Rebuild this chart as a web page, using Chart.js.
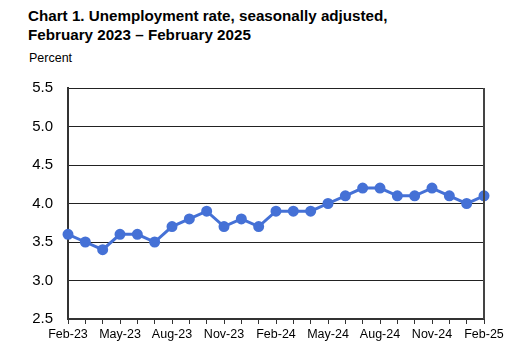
<!DOCTYPE html>
<html><head><meta charset="utf-8">
<script src="https://cdn.jsdelivr.net/npm/chart.js@4"></script>
<style>
html,body{margin:0;padding:0;background:#fff;}
#wrap{position:relative;width:520px;height:358px;font-family:"Liberation Sans",Arial,sans-serif;}
#t{position:absolute;left:28px;top:6px;font-weight:bold;font-size:15.2px;line-height:19px;color:#000;}
#p{position:absolute;left:29px;top:51px;font-size:12.5px;color:#000;}
canvas{position:absolute;left:0;top:0;}
</style></head>
<body><div id="wrap">
<div id="t">Chart 1. Unemployment rate, seasonally adjusted,<br>February 2023 – February 2025</div>
<div id="p">Percent</div>
<canvas id="c" width="520" height="358"></canvas>
</div>
<script>
const months = ["Feb-23","Mar-23","Apr-23","May-23","Jun-23","Jul-23","Aug-23","Sep-23","Oct-23","Nov-23","Dec-23","Jan-24","Feb-24","Mar-24","Apr-24","May-24","Jun-24","Jul-24","Aug-24","Sep-24","Oct-24","Nov-24","Dec-24","Jan-25","Feb-25"];
const rate = [3.6,3.5,3.4,3.6,3.6,3.5,3.7,3.8,3.9,3.7,3.8,3.7,3.9,3.9,3.9,4.0,4.1,4.2,4.2,4.1,4.1,4.2,4.1,4.0,4.1];
const yMin = 2.5, yMax = 5.5, yStep = 0.5;

const frame = {
  id:'frame',
  afterDatasetsDraw(chart){
    const {ctx, chartArea:a} = chart;
    ctx.save();
    ctx.strokeStyle = '#444';
    ctx.lineWidth = 2;
    ctx.beginPath();
    ctx.moveTo(a.right, a.top); ctx.lineTo(a.right, a.bottom);
    ctx.stroke();
    ctx.restore();
  }
};

new Chart(document.getElementById('c'), {
  type:'line',
  data:{labels:months, datasets:[{data:rate, borderColor:'#4571d6', backgroundColor:'#4571d6', borderWidth:3, pointRadius:4, pointHoverRadius:4, tension:0}]},
  options:{
    responsive:false, animation:false,
    layout:{padding:{top:88,right:36,left:0,bottom:0}},
    plugins:{legend:{display:false}, tooltip:{enabled:false}},
    scales:{
      x:{
        offset:false,
        afterFit(s){ s.height = 39; },
        grid:{drawOnChartArea:false, drawTicks:true, tickLength:5, color:'#333', lineWidth:1},
        border:{color:'#333', width:2},
        ticks:{autoSkip:false, maxRotation:0, padding:3, color:'#000', font:{family:'"Liberation Sans", Arial, sans-serif', size:12.5},
          callback(v,i){ return i%3===0 ? months[i] : ''; }}
      },
      y:{
        min:yMin, max:yMax,
        afterFit(s){ s.width = 68; },
        grid:{color:'#222', lineWidth:1, drawTicks:false},
        border:{color:'#333', width:2},
        ticks:{stepSize:yStep, padding:15, color:'#000', font:{family:'"Liberation Sans", Arial, sans-serif', size:15},
          callback(v){ return v.toFixed(1); }}
      }
    }
  },
  plugins:[frame]
});
</script>
</body></html>
